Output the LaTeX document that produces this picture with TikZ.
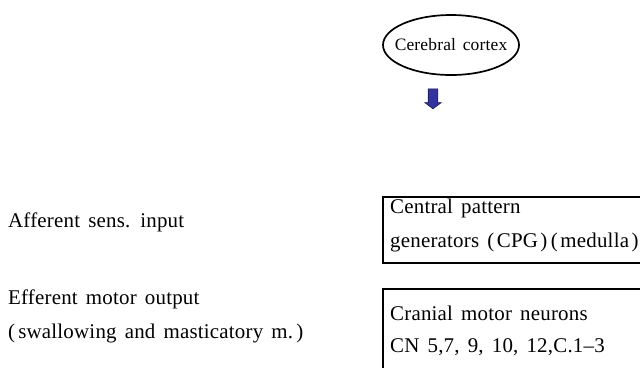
\documentclass[tikz,border=0pt]{standalone}
\usepackage{fontspec}
\setmainfont{Liberation Serif}
\newfontfamily\wideserif{Liberation Serif}[LetterSpace=1,WordSpace=1.5]
\usetikzlibrary{shapes.geometric,shapes.arrows,positioning}
\definecolor{arrowblue}{RGB}{52,52,160}
% loose round brackets
\newcommand\lpar[1][0.15em]{(\hspace{#1}}
\newcommand\rpar[1][0.15em]{\hspace{#1})}

\begin{document}
\begin{tikzpicture}[x=1bp,y=-1bp,
        lbl/.style={anchor=west,inner sep=0pt,font=\wideserif\fontsize{21}{23}\selectfont},
        panel/.style={draw,line width=1.7bp,anchor=north west,minimum width=300bp,inner sep=0pt}]
    \useasboundingbox (0,0) rectangle (640,367);
    \clip (0,0) rectangle (640,367);
    % top of the chain
    \node[draw,ellipse,line width=1.7bp,minimum width=136bp,minimum height=60bp,inner sep=0pt,
        font=\wideserif\fontsize{17.5}{19}\selectfont] (cortex) at (451,45) {\makebox[0pt]{Cerebral cortex}};
    \node[single arrow,rotate=-90,fill=arrowblue,draw=arrowblue!45!black,line width=0.6bp,
        inner xsep=0pt,inner ysep=4.5bp,minimum height=20bp,single arrow head extend=3.5bp,
        single arrow tip angle=106] (down) at (433,97) {};
    % boxes run off the right edge
    \node[panel,minimum height=66bp] (cpg) at (382,196) {};
    \node[panel,minimum height=120bp] (motor) at (382,288) {};
    \node[lbl] (cpg1) at ([xshift=8bp,yshift=-12bp]cpg.north west) {Central pattern};
    \node[lbl] (cpg2) at ([xshift=8bp,yshift=-46bp]cpg.north west)
        {generators \lpar[0.12em]CPG\rpar[0.12em]\,\lpar[0.12em]medulla\rpar[0.12em]};
    \node[lbl] (motor1) at ([xshift=8bp,yshift=-25bp]motor.north west) {Cranial motor neurons};
    \node[lbl] (motor2) at ([xshift=8bp,yshift=-59bp]motor.north west) {CN 5,7, 9, 10, 12,C.1\textendash3};
    % left column
    \node[lbl] (aff) at (8,222) {Afferent sens. input};
    \node[lbl] (eff1) at (8,299) {Efferent motor output};
    \node[lbl] (eff2) at (8,333) {\lpar swallowing and masticatory m.\rpar};
\end{tikzpicture}
\end{document}
